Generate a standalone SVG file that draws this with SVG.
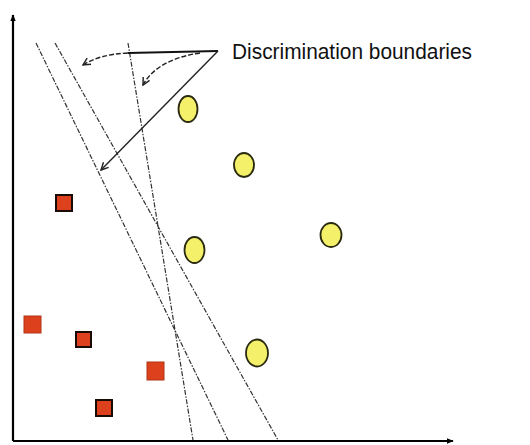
<svg xmlns="http://www.w3.org/2000/svg" width="530" height="445" viewBox="0 0 530 445">
<defs>
<style>
.axis{stroke:#000;stroke-width:2.2;fill:none}
.bnd{stroke:#333;stroke-width:1.2;fill:none;stroke-dasharray:5 1.5 1.5 1.5}
.call{stroke:#222;stroke-width:1.4;fill:none}
.callsolid{stroke:#111;stroke-width:2;fill:none}
.pos{fill:#f4f06a;stroke:#2a2a10;stroke-width:1.8}
.neg{fill:#dc401c;stroke:#b03515;stroke-width:1}
.negb{fill:#dc401c;stroke:#1a0a05;stroke-width:2}
.lbl{font-family:"Liberation Sans",Arial,sans-serif;font-size:22px;fill:#111}
</style>
<marker id="ah" viewBox="0 0 10 10" refX="9" refY="5" markerWidth="9" markerHeight="9" orient="auto" markerUnits="userSpaceOnUse">
<path d="M1,1 L9,5 L1,9" fill="none" stroke="#222" stroke-width="1.6"/>
</marker>
<marker id="axh" viewBox="0 0 10 10" refX="9" refY="5" markerWidth="7" markerHeight="7" orient="auto" markerUnits="userSpaceOnUse">
<path d="M0,1 L10,5 L0,9 Z" fill="#000"/>
</marker>
</defs>
<rect width="530" height="445" fill="#fff"/>
<g id="axes">
<line class="axis" x1="13" y1="441" x2="13" y2="15" marker-end="url(#axh)"/>
<line class="axis" x1="13" y1="441" x2="453" y2="441" marker-end="url(#axh)"/>
</g>
<g id="connectors">
<line class="bnd" x1="36" y1="43" x2="228" y2="440"/>
<line class="bnd" x1="55" y1="43" x2="278" y2="440"/>
<line class="bnd" x1="128" y1="43" x2="193" y2="440"/>
<path class="callsolid" d="M218,51 L128,53"/>
<path class="call" d="M128,53 C108,54 94,58 83,65" stroke-dasharray="5 2" marker-end="url(#ah)"/>
<path class="call" d="M200,53 C172,57 152,68 143,85" stroke-dasharray="5 2" marker-end="url(#ah)"/>
<path class="call" d="M218,51 L101,170" marker-end="url(#ah)"/>
</g>
<g id="label">
<text class="lbl" x="232" y="59" textLength="240" lengthAdjust="spacingAndGlyphs">Discrimination boundaries</text>
</g>
<g id="positives">
<ellipse class="pos" cx="188" cy="109" rx="9.5" ry="13"/>
<ellipse class="pos" cx="244" cy="165" rx="10" ry="12"/>
<ellipse class="pos" cx="194.5" cy="250" rx="10" ry="13"/>
<ellipse class="pos" cx="331" cy="235" rx="10.5" ry="12"/>
<ellipse class="pos" cx="257" cy="353" rx="11" ry="13.5"/>
</g>
<g id="negatives">
<rect class="negb" x="56" y="195" width="16" height="16"/>
<rect class="neg" x="24" y="316" width="17" height="17"/>
<rect class="negb" x="76" y="332" width="15" height="15"/>
<rect class="neg" x="147" y="362" width="17" height="18"/>
<rect class="negb" x="96" y="400" width="16" height="16"/>
</g>
</svg>
